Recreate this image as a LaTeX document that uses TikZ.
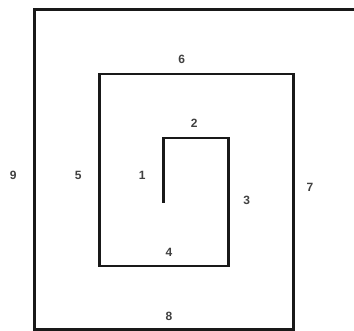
\documentclass[tikz,border=0pt]{standalone}
\usepackage{fontspec}
\setmainfont{Liberation Sans}
\begin{document}
\begin{tikzpicture}[x=1pt,y=-1pt,
  spiral/.style={line width=2.8pt,line join=miter,black!90},
  lbl/.style={font=\fontsize{12}{12}\selectfont\bfseries,text=black!75,inner sep=0pt}]
\useasboundingbox (0,0) rectangle (354,331);
\draw[spiral] (163.3,202.7) -- (163.3,138) -- (228.3,138) -- (228.3,266)
  -- (99.3,266) -- (99.3,74) -- (293.3,74) -- (293.3,329.5)
  -- (34.3,329.5) -- (34.3,9.7) -- (356,9.7);
\node[lbl] (n1) at (142.3,175) {1};
\node[lbl] (n2) at (194.3,123.7) {2};
\node[lbl] (n3) at (246.7,200.7) {3};
\node[lbl] (n4) at (169,252.3) {4};
\node[lbl] (n5) at (78.3,175) {5};
\node[lbl] (n6) at (181.7,59.3) {6};
\node[lbl] (n7) at (310,187.7) {7};
\node[lbl] (n8) at (169,316) {8};
\node[lbl] (n9) at (13.3,175) {9};
\end{tikzpicture}
\end{document}
